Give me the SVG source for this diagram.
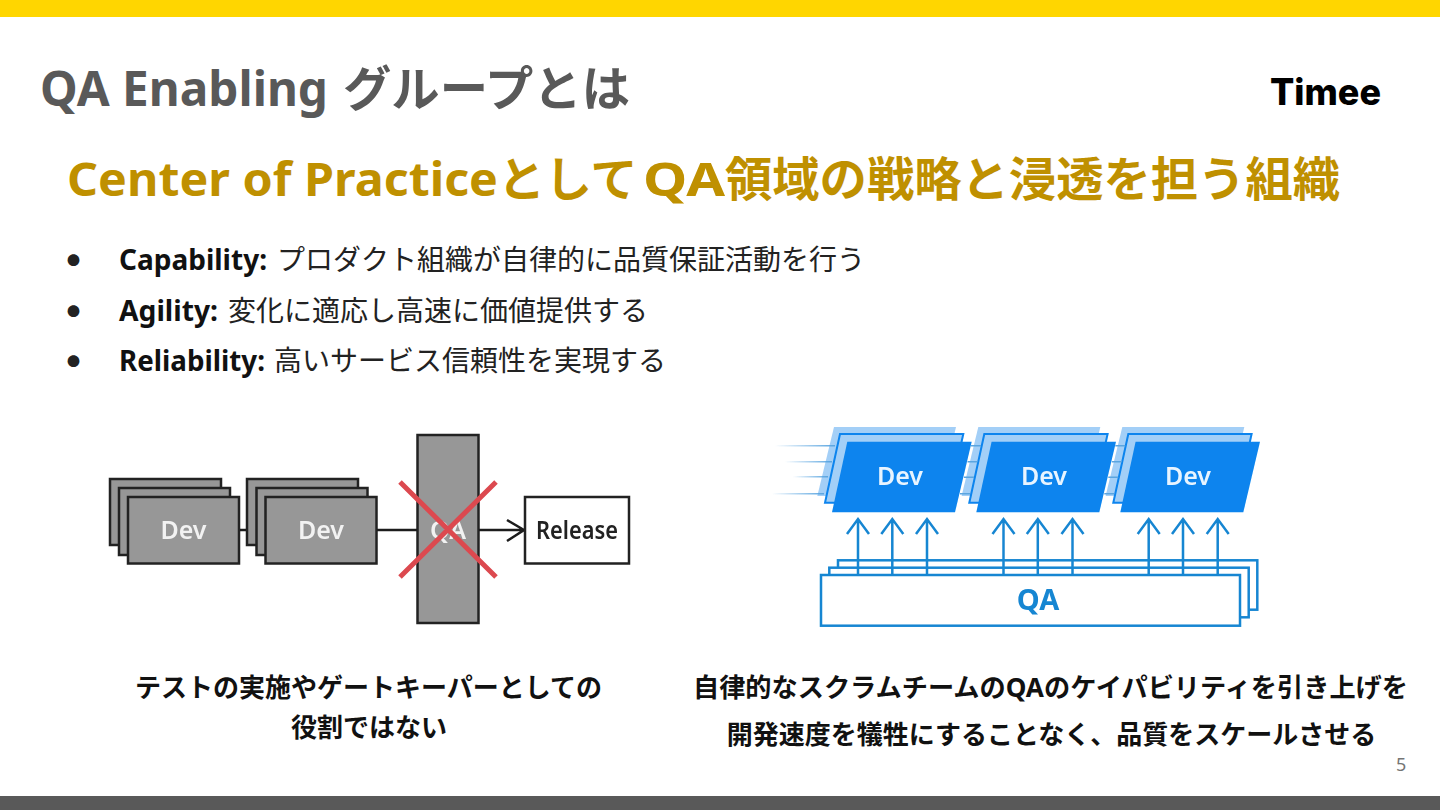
<svg xmlns="http://www.w3.org/2000/svg" width="1440" height="810" viewBox="0 0 1440 810">
<style>
text{font-family:"Noto Sans","Noto Sans CJK JP",sans-serif}
.cjk{font-family:"Noto Sans CJK JP",sans-serif}
.ttl{font-size:48px;font-weight:700;fill:#595959}
.sub{font-size:47px;font-weight:700;fill:#bf9000}
.li{font-size:28px;fill:#222;font-weight:400}
.b{font-size:28px;font-weight:700;fill:#111}
.blt{font-size:13px;fill:#222}
.cap{font-size:26px;font-weight:700;fill:#111;text-anchor:middle}
.g{fill:#979797;stroke:#222;stroke-width:2.5}
.ln{stroke:#1a1a1a;stroke-width:2.5;fill:none}
.x{stroke:#dc4a50;stroke-width:5;fill:none}
.dt{font-size:25px;font-weight:600;text-anchor:middle}
.bk{fill:#a3cff7}.md{fill:#a3cff7;stroke:#0a84ee;stroke-width:2}.fr{fill:#0a84ee}
.sl{fill:url(#fade)}
.gp{fill:#5aa5e0}
.ar{stroke:#1786d2;stroke-width:2.5;fill:none}
.qb{fill:#fff;stroke:#1786d2;stroke-width:2.5}
</style>
<defs>
<linearGradient id="fade" x1="0" x2="1" y1="0" y2="0"><stop offset="0" stop-color="#5aa5e0" stop-opacity="0"/><stop offset="1" stop-color="#5aa5e0"/></linearGradient>
<filter id="soft" x="-5%" y="-5%" width="110%" height="110%"><feGaussianBlur stdDeviation="0.5"/></filter>
<g id="devp">
<path class="bk" d="M834 427H956L940 496H817.3Z"/>
<path class="md" d="M840 434H963.3L948 502.7H825Z"/>
<path class="fr" d="M847.3 441.7H971.7L955 512.3H832Z"/>
</g>
<g id="arr3">
<path class="ar" d="M858 575V520M847 534L858 519L869 534M892.3 575V520M881.3 534L892.3 519L903.3 534M927 575V520M916 534L927 519L938 534"/>
</g>
</defs>

<rect id="top-bar" width="1440" height="17" fill="#ffd600"/>
<rect id="bottom-bar" y="796" width="1440" height="14" fill="#595959"/>

<g id="title">
<text class="ttl" x="40" y="106" textLength="288" lengthAdjust="spacingAndGlyphs">QA Enabling</text>
<text class="ttl cjk" x="343" y="106" textLength="287" lengthAdjust="spacingAndGlyphs">グループとは</text>
</g>
<text id="logo" x="1270" y="105" style="font-family:Inter,sans-serif" font-size="37" font-weight="800" fill="#000" textLength="111" lengthAdjust="spacingAndGlyphs">Timee</text>
<g id="subtitle">
<text class="sub" x="67" y="196" textLength="431" lengthAdjust="spacingAndGlyphs">Center of Practice</text>
<text class="sub cjk" x="498" y="196">として</text>
<text class="sub" x="643" y="196" textLength="82" lengthAdjust="spacingAndGlyphs">QA</text>
<text class="sub cjk" x="725" y="196" textLength="615" lengthAdjust="spacingAndGlyphs">領域の戦略と浸透を担う組織</text>
</g>

<g id="bullets">
<text class="blt" x="67" y="265">●</text>
<text class="b" x="119" y="270" textLength="148" lengthAdjust="spacingAndGlyphs">Capability:</text>
<text class="li cjk" x="277" y="270">プロダクト組織が自律的に品質保証活動を行う</text>
<text class="blt" x="67" y="316">●</text>
<text class="b" x="119" y="321" textLength="99" lengthAdjust="spacingAndGlyphs">Agility:</text>
<text class="li cjk" x="228" y="321">変化に適応し高速に価値提供する</text>
<text class="blt" x="67" y="366">●</text>
<text class="b" x="119" y="371" textLength="146" lengthAdjust="spacingAndGlyphs">Reliability:</text>
<text class="li cjk" x="274" y="371">高いサービス信頼性を実現する</text>
</g>

<g id="left-diagram" filter="url(#soft)">
<g id="connectors-left">
<path class="ln" d="M239 530H266M376 530H418M478 530H524M507 520L524 530L507 541"/>
</g>
<g id="dev-a">
<rect class="g" x="110" y="479" width="111" height="66"/>
<rect class="g" x="119" y="488" width="111" height="67"/>
<rect class="g" x="128" y="497" width="111" height="66.500"/>
<text class="dt" x="183.500" y="539" fill="#f2f2f2">Dev</text>
</g>
<g id="dev-b">
<rect class="g" x="247" y="479" width="111" height="66"/>
<rect class="g" x="256.500" y="488" width="111" height="67"/>
<rect class="g" x="265.500" y="497" width="111" height="66.500"/>
<text class="dt" x="321" y="539" fill="#f2f2f2">Dev</text>
</g>
<g id="qa-gate">
<rect class="g" x="417.500" y="435" width="61" height="188"/>
<text class="dt" x="448" y="539" fill="#f2f2f2">QA</text>
<path class="x" d="M400 482L496 577M496 482L400 577"/>
</g>
<g id="release">
<rect x="525" y="497" width="104" height="66.500" fill="#fff" stroke="#222" stroke-width="2.500"/>
<text class="dt" x="577" y="539" fill="#222" textLength="82" lengthAdjust="spacingAndGlyphs">Release</text>
</g>
</g>

<g id="right-diagram" filter="url(#soft)">
<g id="dev-1"><use href="#devp"/><text class="dt" x="900" y="485" fill="#e8f4ff">Dev</text></g>
<g id="dev-2"><use href="#devp" x="144.300"/><text class="dt" x="1044" y="485" fill="#e8f4ff">Dev</text></g>
<g id="dev-3"><use href="#devp" x="288.300"/><text class="dt" x="1188" y="485" fill="#e8f4ff">Dev</text></g>
<g id="speed-lines">
<rect class="sl" x="775" y="445" width="60" height="1.500"/>
<rect class="sl" x="785" y="461" width="47" height="1.500"/>
<rect class="sl" x="793" y="476" width="35" height="1.500"/>
<rect class="sl" x="772" y="493" width="52" height="1.500"/>
<path class="gp" d="M971 445h10v1.500h-10zM967.500 461h10v1.500h-10zM964 476.500h10v1.500h-10zM960 493h10v1.500h-10zM1115.300 445h10v1.500h-10zM1111.800 461h10v1.500h-10zM1108.300 476.500h10v1.500h-10zM1104.300 493h10v1.500h-10z"/>
</g>
<g id="qa-base">
<rect class="qb" x="838" y="560.300" width="419.300" height="49.400"/>
<rect class="qb" x="829.300" y="567.700" width="419.400" height="49.600"/>
<rect class="qb" x="821" y="575" width="419" height="50.700"/>
<text class="dt" x="1038" y="610" fill="#1786d2" style="font-size:29px;font-weight:700">QA</text>
</g>
<g id="connectors-right">
<use href="#arr3"/><use href="#arr3" x="145.500"/><use href="#arr3" x="290.700"/>
</g>
</g>

<g id="captions">
<text class="cap" x="368.500" y="697" textLength="467" lengthAdjust="spacingAndGlyphs">テストの実施やゲートキーパーとしての</text>
<text class="cap" x="369" y="737">役割ではない</text>
<text class="cap" x="1050.500" y="697" textLength="715" lengthAdjust="spacingAndGlyphs">自律的なスクラムチームのQAのケイパビリティを引き上げを</text>
<text class="cap" x="1051.500" y="744">開発速度を犠牲にすることなく、品質をスケールさせる</text>
</g>
<text id="page" x="1396" y="771" font-size="18" fill="#757575">5</text>
</svg>
